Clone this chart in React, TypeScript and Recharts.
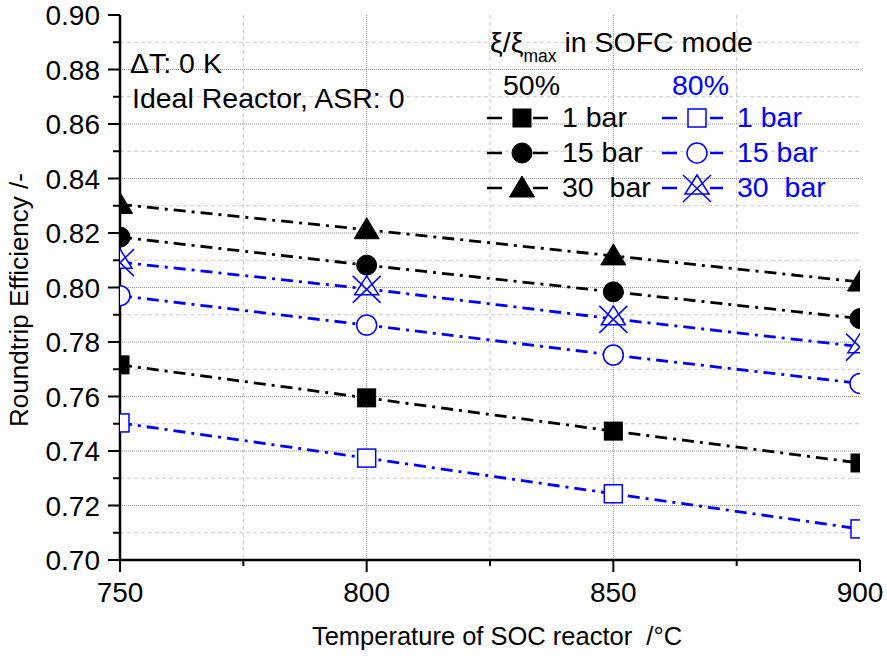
import { LineChart, Line, XAxis, YAxis, CartesianGrid } from 'recharts';

const FONT = '"Liberation Sans", Arial, Helvetica, sans-serif';
const BLUE = '#0000ff';

// temperatures of the SOC reactor, °C
const TEMPS = [750, 800, 850, 900];

// roundtrip efficiency, xi/xi_max = 50 %
const XI50_1BAR = [0.7716, 0.7595, 0.7473, 0.7356];
const XI50_15BAR = [0.8185, 0.8082, 0.7984, 0.7886];
const XI50_30BAR = [0.8305, 0.8212, 0.8116, 0.802];

// roundtrip efficiency, xi/xi_max = 80 %
const XI80_1BAR = [0.7503, 0.7374, 0.7243, 0.7114];
const XI80_15BAR = [0.797, 0.7862, 0.7752, 0.7648];
const XI80_30BAR = [0.8093, 0.7995, 0.7885, 0.7783];

const X_TICKS = [750, 775, 800, 825, 850, 875, 900];
const TOP_TICKS = [750, 765, 780, 795, 810, 825, 840, 855, 870, 885, 900];
const Y_TICKS = [
  0.7, 0.71, 0.72, 0.73, 0.74, 0.75, 0.76, 0.77, 0.78, 0.79, 0.8,
  0.81, 0.82, 0.83, 0.84, 0.85, 0.86, 0.87, 0.88, 0.89, 0.9,
];
const Y_MAJOR = [0.72, 0.74, 0.76, 0.78, 0.8, 0.82, 0.84, 0.86, 0.88];
const Y_MINOR = [0.71, 0.73, 0.75, 0.77, 0.79, 0.81, 0.83, 0.85, 0.87, 0.89];

type Shape = 'square' | 'circle' | 'triangle' | 'trix';

const SERIES: { key: string; values: number[]; color: string; shape: Shape; open: boolean }[] = [
  { key: 'a1', values: XI50_1BAR, color: '#000', shape: 'square', open: false },
  { key: 'a15', values: XI50_15BAR, color: '#000', shape: 'circle', open: false },
  { key: 'a30', values: XI50_30BAR, color: '#000', shape: 'triangle', open: false },
  { key: 'b1', values: XI80_1BAR, color: BLUE, shape: 'square', open: true },
  { key: 'b15', values: XI80_15BAR, color: BLUE, shape: 'circle', open: true },
  { key: 'b30', values: XI80_30BAR, color: BLUE, shape: 'trix', open: true },
];

const data = TEMPS.map((t, i) => {
  const row: Record<string, number> = { t };
  SERIES.forEach((s) => (row[s.key] = s.values[i]));
  return row;
});

function Marker({ cx, cy, shape, color, open }: { cx: number; cy: number; shape: Shape; color: string; open: boolean }) {
  const fill = open ? '#fff' : color;
  const stroke = color;
  const sw = open ? 1.5 : 1;
  if (shape === 'square') {
    return <rect x={cx - 9} y={cy - 9} width={18} height={18} fill={fill} stroke={stroke} strokeWidth={sw} />;
  }
  if (shape === 'circle') {
    return <circle cx={cx} cy={cy} r={10} fill={fill} stroke={stroke} strokeWidth={sw} />;
  }
  if (shape === 'triangle') {
    return (
      <polygon
        points={`${cx},${cy - 12} ${cx - 12.5},${cy + 9} ${cx + 12.5},${cy + 9}`}
        fill={fill}
        stroke={stroke}
        strokeWidth={sw}
      />
    );
  }
  return (
    <g fill="none" stroke={stroke} strokeWidth={1.5}>
      <polygon points={`${cx},${cy - 13} ${cx - 12},${cy + 6} ${cx + 12},${cy + 6}`} fill="#fff" />
      <line x1={cx - 14} y1={cy - 13} x2={cx + 14} y2={cy + 14} />
      <line x1={cx + 14} y1={cy - 13} x2={cx - 14} y2={cy + 14} />
    </g>
  );
}

const dotFor = (s: (typeof SERIES)[number]) => (props: any) => (
  <Marker key={`${s.key}-${props.index}`} cx={props.cx} cy={props.cy} shape={s.shape} color={s.color} open={s.open} />
);

function LeftTick({ x, y, payload }: any) {
  const v = payload.value as number;
  const major = Math.round(v * 100) % 2 === 0;
  return (
    <g>
      <line x1={x - (major ? 12 : 7)} x2={x} y1={y} y2={y} stroke="#000" strokeWidth={2} />
      {major && (
        <text x={x - 20} y={y} dy="0.36em" textAnchor="end" fontSize={28} fontFamily={FONT} fill="#000">
          {v.toFixed(2)}
        </text>
      )}
    </g>
  );
}

function BottomTick({ x, y, payload }: any) {
  const v = payload.value as number;
  const major = v % 50 === 0;
  return (
    <g>
      <line x1={x} x2={x} y1={y} y2={y + (major ? 12 : 6)} stroke="#000" strokeWidth={2} />
      {major && (
        <text x={x} y={y + 42} textAnchor="middle" fontSize={28} fontFamily={FONT} fill="#000">
          {v}
        </text>
      )}
    </g>
  );
}

function TopTick({ x, y, payload }: any) {
  const v = payload.value as number;
  if (v === 750 || v === 900) return <g />;
  const major = (v - 750) % 30 === 0;
  return <line x1={x} x2={x} y1={y} y2={y + (major ? 12 : 6)} stroke="#000" strokeWidth={2} />;
}

function RightTick({ x, y, payload }: any) {
  const v = payload.value as number;
  if (v <= 0.7 || v >= 0.9) return <g />;
  return <line x1={x - 10} x2={x} y1={y} y2={y} stroke="#000" strokeWidth={2} />;
}

const xTitle = (props: any) => {
  const vb = props.viewBox;
  return (
    <text x={vb.x + vb.width / 2 + 7} y={645} textAnchor="middle" fontSize={25.5} fontFamily={FONT} fill="#000" style={{ whiteSpace: 'pre' }}>
      Temperature of SOC reactor  /°C
    </text>
  );
};

const yTitle = () => (
  <text x={28} y={300} transform="rotate(-90 28 300)" textAnchor="middle" fontSize={26} fontFamily={FONT} fill="#000">
    Roundtrip Efficiency /-
  </text>
);

const axisLine = { stroke: '#000', strokeWidth: 2.5 };

function Legend() {
  const rows = [
    { y: 118, label: '1 bar', black: SERIES[0], blue: SERIES[3], blueLabel: '1 bar' },
    { y: 153, label: '15 bar', black: SERIES[1], blue: SERIES[4], blueLabel: '15 bar' },
    { y: 188, label: '30  bar', black: SERIES[2], blue: SERIES[5], blueLabel: '30  bar' },
  ];
  return (
    <svg width={887} height={656} style={{ position: 'absolute', left: 0, top: 0, pointerEvents: 'none' }} fontFamily={FONT} fontSize={28.5}>
      <text x={130} y={73} fill="#000">ΔT: 0 K</text>
      <text x={132} y={108} fill="#000">Ideal Reactor, ASR: 0</text>
      <text x={490} y={52} fill="#000" style={{ whiteSpace: 'pre' }}>
        ξ/ξ
        <tspan fontSize={17.5} dy={10}>max</tspan>
        <tspan dy={-10}> in SOFC mode</tspan>
      </text>
      <text x={503} y={95} fill="#000">50%</text>
      <text x={672} y={95} fill={BLUE}>80%</text>
      {rows.map((r) => (
        <g key={r.label}>
          <line x1={487} x2={502} y1={r.y} y2={r.y} stroke="#000" strokeWidth={2.5} />
          <line x1={533} x2={548} y1={r.y} y2={r.y} stroke="#000" strokeWidth={2.5} />
          <Marker cx={522} cy={r.y} shape={r.black.shape} color={r.black.color} open={r.black.open} />
          <text x={562} y={r.y + 9} fill="#000" style={{ whiteSpace: 'pre' }}>{r.label}</text>
          <line x1={662} x2={677} y1={r.y} y2={r.y} stroke={BLUE} strokeWidth={2.5} />
          <line x1={710} x2={723} y1={r.y} y2={r.y} stroke={BLUE} strokeWidth={2.5} />
          <Marker cx={697} cy={r.y} shape={r.blue.shape} color={r.blue.color} open={r.blue.open} />
          <text x={737} y={r.y + 9} fill={BLUE} style={{ whiteSpace: 'pre' }}>{r.blueLabel}</text>
        </g>
      ))}
    </svg>
  );
}

export default function App() {
  return (
    <div style={{ position: 'absolute', left: 0, top: 0, width: 887, height: 656, background: '#fff', fontFamily: FONT }}>
      <LineChart width={887} height={656} data={data} margin={{ top: 15, right: 27, bottom: 0, left: 0 }}>
        <CartesianGrid
          horizontalValues={Y_MINOR}
          verticalValues={[775, 825, 875]}
          stroke="#c8c8c8"
          strokeDasharray="4 3"
        />
        <CartesianGrid
          horizontalValues={Y_MAJOR}
          verticalValues={[800, 850]}
          stroke="#8c8c8c"
          strokeDasharray="1 1"
        />
        <XAxis
          dataKey="t"
          type="number"
          domain={[750, 900]}
          ticks={X_TICKS}
          interval={0}
          allowDataOverflow
          height={96}
          tickSize={0}
          tickMargin={0}
          tickLine={false}
          axisLine={axisLine}
          tick={<BottomTick />}
          label={xTitle}
        />
        <XAxis
          xAxisId="top"
          orientation="top"
          type="number"
          domain={[750, 900]}
          ticks={TOP_TICKS}
          interval={0}
          height={0}
          tickSize={0}
          tickMargin={0}
          tickLine={false}
          axisLine={axisLine}
          tick={<TopTick />}
        />
        <YAxis
          type="number"
          domain={[0.7, 0.9]}
          ticks={Y_TICKS}
          interval={0}
          width={120}
          tickSize={0}
          tickMargin={0}
          tickLine={false}
          axisLine={axisLine}
          tick={<LeftTick />}
          label={yTitle}
        />
        <YAxis
          yAxisId="right"
          orientation="right"
          type="number"
          domain={[0.7, 0.9]}
          ticks={Y_TICKS}
          interval={0}
          width={0}
          tickSize={0}
          tickMargin={0}
          tickLine={false}
          axisLine={axisLine}
          tick={<RightTick />}
        />
        {SERIES.map((s) => (
          <Line
            key={s.key}
            dataKey={s.key}
            type="linear"
            stroke={s.color}
            strokeWidth={2.8}
            strokeDasharray="12 6 3 6"
            dot={dotFor(s)}
            activeDot={false}
            legendType="none"
            isAnimationActive={false}
          />
        ))}
      </LineChart>
      <Legend />
    </div>
  );
}
